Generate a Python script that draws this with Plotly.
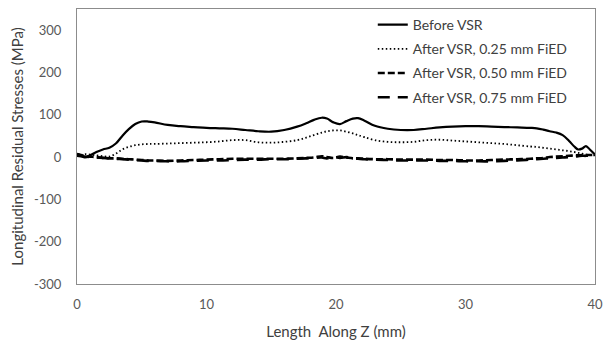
import plotly.graph_objects as go

z_mm = [0, 0.3, 0.6, 1.0, 1.5, 2.0, 2.5, 3.0, 3.5, 4.0, 4.5, 5.0, 5.5, 6.0, 7.0, 8.0, 9.0, 10.0,
        11.0, 12.0, 13.0, 14.0, 15.0, 16.0, 17.0, 17.7, 18.3, 18.9, 19.3, 19.8, 20.3, 20.8, 21.3,
        21.7, 22.2, 23.0, 24.0, 25.0, 26.0, 27.0, 28.0, 29.0, 30.0, 31.0, 32.0, 33.0, 34.0, 35.0,
        35.5, 36.0, 36.5, 37.0, 37.5, 38.0, 38.4, 38.7, 39.0, 39.3, 39.6, 40.0]

before_vsr = [7, 4, -1, 4, 12, 18, 22, 32, 50, 66, 78, 84, 84, 82, 76, 73, 71, 69,
              68, 67, 64, 61, 60, 64, 72, 80, 88, 93, 91, 82, 78, 85, 91,
              92, 86, 74, 67, 64, 64, 67, 70, 72, 73, 73, 72, 71, 70, 69,
              68, 65, 61, 58, 52, 38, 25, 18, 20, 26, 18, 6]

after_025 = [6, 5, 7, 6, 4, 2, 1, 8, 18, 24, 28, 30, 31, 31, 32, 33, 34, 35,
             37, 40, 40, 35, 34, 36, 40, 46, 52, 58, 61, 63, 63, 60, 56,
             52, 47, 40, 36, 35, 36, 40, 41, 39, 37, 35, 33, 31, 28, 25,
             24, 22, 20, 18, 16, 14, 12, 10, 8, 6, 5, 4]

after_050 = [7, 5, 2, 1, 0, -2, -3, -3, -4, -5, -6, -7, -8, -8, -9, -8, -7, -6,
             -5, -4, -4, -4, -4, -4, -3, -2, -1, 2, 0, -2, 1, -1, -3,
             -3, -4, -5, -5, -6, -6, -6, -7, -7, -8, -8, -7, -6, -5, -4,
             -3, -2, 0, 1, 2, 3, 4, 4, 5, 5, 5, 5]

after_075 = [3, 2, 1, 0, -1, -2, -3, -4, -5, -6, -7, -8, -9, -9, -10, -10, -9, -8,
             -8, -7, -6, -6, -5, -5, -4, -3, -2, -1, -3, 1, -2, 0, -2,
             -4, -5, -6, -7, -8, -8, -8, -9, -9, -10, -10, -10, -9, -8, -6,
             -5, -4, -3, -2, -1, 0, 1, 2, 3, 3, 4, 4]

series_names = ["Before VSR", "After VSR, 0.25 mm FiED",
                "After VSR, 0.50 mm FiED", "After VSR, 0.75 mm FiED"]
x_ticks = [0, 10, 20, 30, 40]
y_ticks = [-300, -200, -100, 0, 100, 200, 300]
y_tick_labels = ["-300", "-200", "-100", "0", "100", "200", "300"]

FONT = "Lato, 'Open Sans', sans-serif"
TXT = "#595959"

fig = go.Figure()
styles = [
    dict(color="black", width=2.2, dash="solid"),
    dict(color="black", width=1.8, dash="1.5px,2.5px"),
    dict(color="black", width=2.6, dash="7px,3px"),
    dict(color="black", width=2.6, dash="12px,8px"),
]
for i, (name, ys) in enumerate(zip(series_names, [before_vsr, after_025, after_050, after_075])):
    fig.add_trace(go.Scatter(x=z_mm, y=ys, mode="lines", name=name, line=styles[i],
                             line_shape="spline", legendgroup=f"g{i}"))

fig.update_layout(
    width=610, height=340,
    margin=dict(l=77, r=15, t=9, b=56),
    paper_bgcolor="white", plot_bgcolor="white",
    font=dict(family=FONT, size=13, color=TXT),
    legend=dict(x=0.571, y=1.0, xanchor="left", yanchor="top",
                bgcolor="rgba(0,0,0,0)", font=dict(size=14, color="#404040"),
                tracegroupgap=3, traceorder="grouped"),
    xaxis=dict(range=[0, 40], tickvals=x_ticks, showgrid=False, zeroline=False,
               showline=True, linecolor="#8c8c8c", linewidth=1, mirror=True,
               ticks="", ticklabelstandoff=8, automargin=False,
               title=dict(text="Length\u00a0 Along Z (mm)", standoff=22,
                          font=dict(size=15, color="#404040"))),
    yaxis=dict(range=[-300, 350], tickvals=y_ticks, ticktext=y_tick_labels,
               showgrid=False, zeroline=False, automargin=False,
               showline=True, linecolor="#8c8c8c", linewidth=1, mirror=True,
               ticks="", ticklabelstandoff=12,
               title=dict(text="Longitudinal Residual Stresses (MPa)", standoff=6,
                          font=dict(size=15, color="#404040"))),
)

fig.write_html("out.html")
